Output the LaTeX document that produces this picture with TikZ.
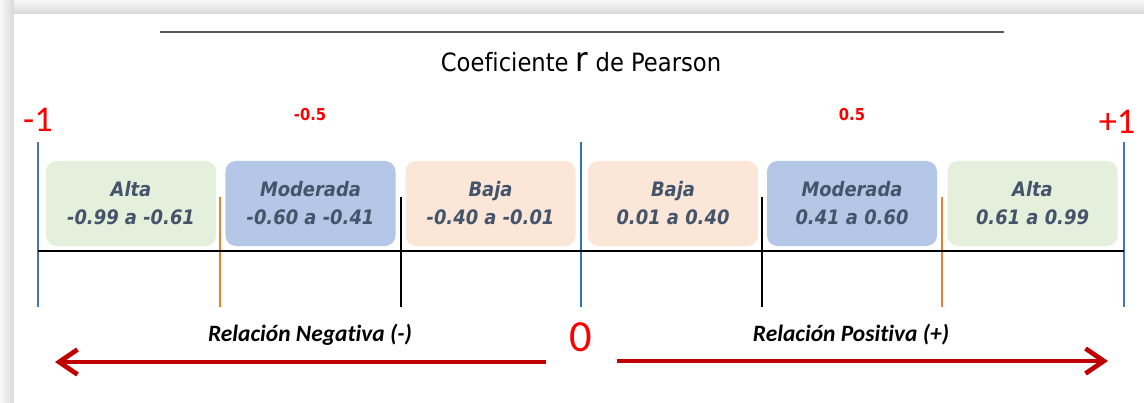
\documentclass[tikz,border=0pt]{standalone}
\usepackage{fontspec}
\setmainfont{DejaVu Sans Condensed}[BoldFont={DejaVu Sans Condensed Bold},ItalicFont={DejaVu Sans Condensed Oblique},BoldItalicFont={DejaVu Sans Condensed Bold Oblique},Ligatures=NoCommon]
\newfontfamily\calibri{Carlito}[Ligatures=NoCommon]
\usetikzlibrary{arrows.meta}

\definecolor{altafill}{HTML}{E4EFDC}
\definecolor{modfill}{HTML}{B4C7E7}
\definecolor{bajafill}{HTML}{FBE6D8}
\definecolor{boxtext}{HTML}{44546A}
\definecolor{tickblue}{HTML}{4472C4}
\definecolor{zeroblue}{HTML}{2E75B6}
\definecolor{tickorange}{HTML}{ED7D31}
\definecolor{arrowred}{HTML}{C00000}

\tikzset{
  band/.style={rounded corners=9pt,minimum width=5.1cm,minimum height=2.55cm,
    align=center,text=boxtext,font=\fontsize{17}{24}\selectfont\bfseries\itshape},
  endnum/.style={text=red,font=\calibri\fontsize{31}{31}\selectfont},
  halfnum/.style={text=red,font=\fontsize{14}{14}\selectfont\bfseries},
  relation/.style={font=\calibri\fontsize{20}{20}\selectfont\bfseries\itshape},
  relarrow/.style={draw=arrowred,line width=4pt,-{Straight Barb[length=0.55cm,width=0.75cm]}},
  tick/.style={line width=1.6pt}
}

\begin{document}
\begin{tikzpicture}[x=0.03cm,y=-0.03cm]
\useasboundingbox (0,0) rectangle (1144,403);
% frame with shadow
\shade[top color=gray!6,bottom color=gray!30] (0,0) rectangle (1144,14);
\shade[left color=gray!6,right color=gray!30] (0,0) rectangle (14,403);
\fill[white] (14,14) rectangle (1144,403);
% title
\draw[line width=1.6pt,gray!70!black] (160,32) -- (1004,32);
\node (title) at (581,62) {\fontsize{21.5}{21.5}\selectfont Coeficiente {\fontsize{29}{29}\selectfont r} de Pearson};
% values on the scale
\node[endnum] (minusone) at (38,120) {-1};
\node[halfnum] (minushalf) at (310,115) {-0.5};
\node[halfnum] (plushalf) at (852,115) {0.5};
\node[endnum] (plusone) at (1117,122) {+1};
% scale
\draw[tick,tickblue] (38,142) -- (38,307);
\draw[tick,zeroblue] (581,142) -- (581,307);
\draw[tick,tickblue] (1124,142) -- (1124,307);
\draw[tick,tickorange] (220,197) -- (220,307);
\draw[tick,tickorange] (942,197) -- (942,307);
\draw[tick] (401,197) -- (401,307);
\draw[tick] (762,197) -- (762,307);
\draw[tick] (38,251) -- (1124,251);
% ranges
\node[band,fill=altafill] (altaneg) at (131,203.5) {Alta\\-0.99 a -0.61};
\node[band,fill=modfill] (modneg) at (310.5,203.5) {Moderada\\-0.60 a -0.41};
\node[band,fill=bajafill] (bajaneg) at (490.5,203.5) {Baja\\-0.40 a -0.01};
\node[band,fill=bajafill] (bajapos) at (673,203.5) {Baja\\0.01 a 0.40};
\node[band,fill=modfill] (modpos) at (852,203.5) {Moderada\\0.41 a 0.60};
\node[band,fill=altafill] (altapos) at (1032.5,203.5) {Alta\\0.61 a 0.99};
% relations
\node[relation] (negative) at (310,335) {Relación Negativa (-)};
\node[endnum,font=\calibri\fontsize{38}{38}\selectfont] (zero) at (581,337) {0};
\node[relation] (positive) at (851,335) {Relación Positiva (+)};
\coordinate (negstart) at (546,362);
\coordinate (negend) at (55,362);
\coordinate (posstart) at (617,361);
\coordinate (posend) at (1108,361);
\draw[relarrow] (negstart) -- (negend);
\draw[relarrow] (posstart) -- (posend);
\end{tikzpicture}
\end{document}
